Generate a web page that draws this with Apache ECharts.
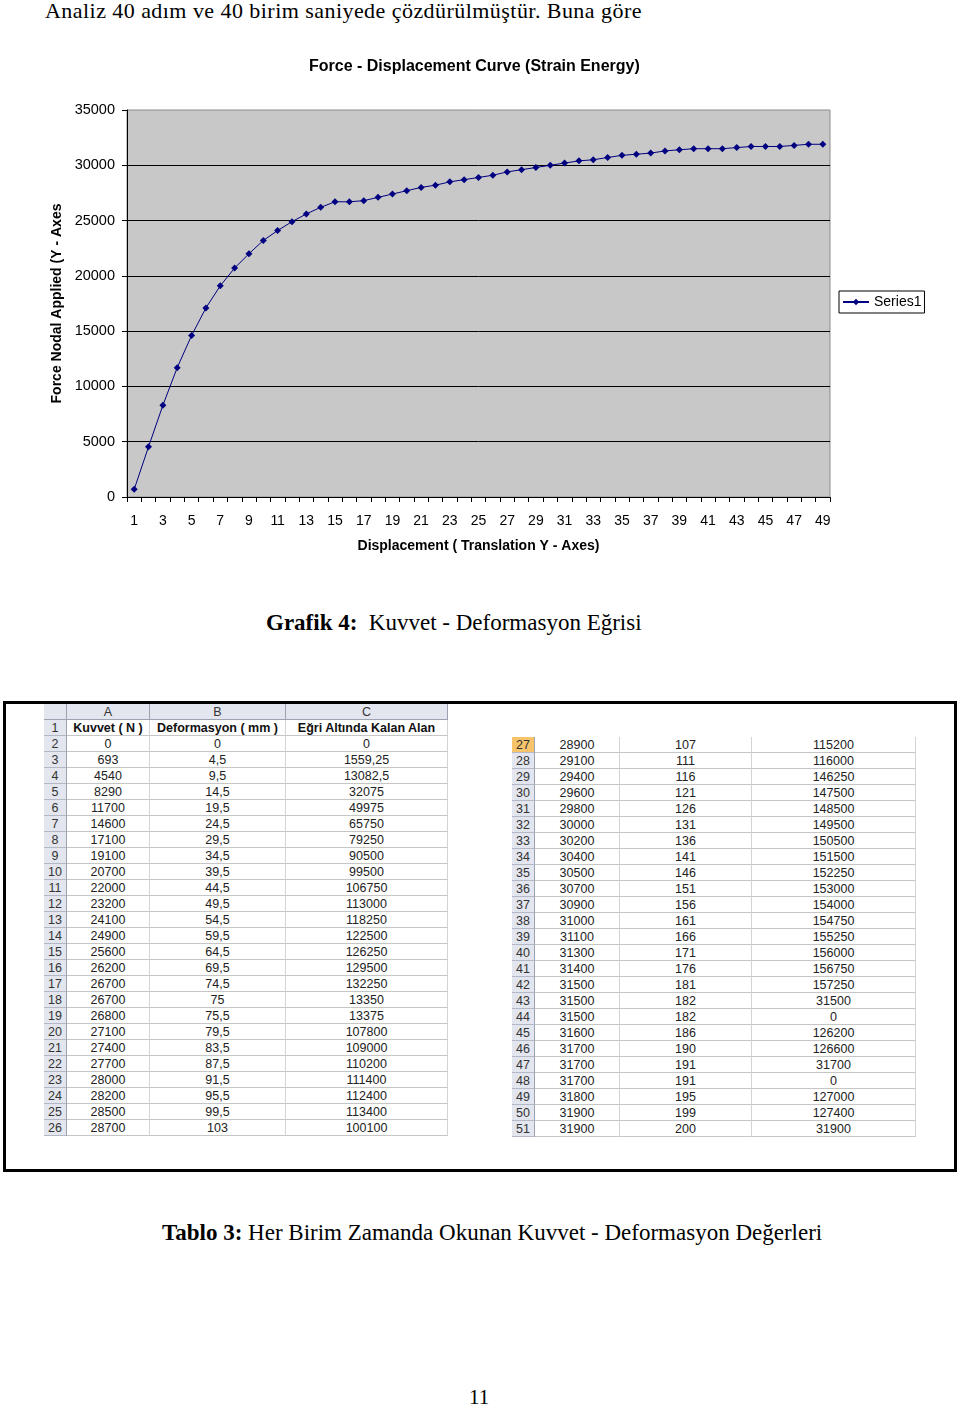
<!DOCTYPE html>
<html><head><meta charset="utf-8">
<script src="https://cdn.jsdelivr.net/npm/echarts@6/dist/echarts.min.js"></script>
<style>
body{margin:0;width:960px;height:1407px;background:#fff;position:relative;overflow:hidden;font-family:"Liberation Serif","Times New Roman",serif;}
.t{position:absolute;white-space:nowrap;color:#000;}
#chart{position:absolute;left:0;top:0;width:960px;height:580px;}
#frame{position:absolute;left:3px;top:701px;width:948px;height:465px;border:3px solid #000;}
.c{position:absolute;box-sizing:border-box;text-align:center;font-family:"Liberation Sans",Arial,sans-serif;font-size:12.5px;line-height:16px;color:#222;white-space:nowrap;overflow:hidden;border-bottom:1px solid #c6c6c6;border-right:1px solid #d4d4d4;}
.rh{background:#e3e6ee;border-right:1px solid #9ca2b2;border-bottom:1px solid #b4b8c4;color:#333;}
.hd{background:#e3e6ee;border-right:1px solid #9ca2b2;border-bottom:1px solid #9ca2b2;color:#333;}
.b{font-weight:bold;color:#111;}
.sel{background:#f7c46c;color:#333;}
</style></head>
<body>
<div class="t" style="left:45px;top:0px;font-size:22px;line-height:22px;letter-spacing:0.45px;">Analiz 40 adım ve 40 birim saniyede çözdürülmüştür. Buna göre</div>
<div id="chart"></div>
<div class="t" style="left:266px;top:611px;font-size:23px;line-height:23px;"><b>Grafik 4:</b>&nbsp; Kuvvet - Deformasyon Eğrisi</div>
<div id="frame"></div>
<div id="tbl"></div>
<div class="t" style="left:162px;top:1221px;font-size:23px;line-height:23px;"><b>Tablo 3:</b> Her Birim Zamanda Okunan Kuvvet - Deformasyon Değerleri</div>
<div class="t" style="left:469px;top:1387px;font-size:21px;line-height:21px;">11</div>
<script>
// ---- data ----
const kuvvet = [0,693,4540,8290,11700,14600,17100,19100,20700,22000,23200,24100,24900,25600,26200,26700,26700,26800,27100,27400,27700,28000,28200,28500,28700,
  28900,29100,29400,29600,29800,30000,30200,30400,30500,30700,30900,31000,31100,31300,31400,31500,31500,31500,31600,31700,31700,31700,31800,31900,31900];
const deformasyon = ['0','4,5','9,5','14,5','19,5','24,5','29,5','34,5','39,5','44,5','49,5','54,5','59,5','64,5','69,5','74,5','75','75,5','79,5','83,5','87,5','91,5','95,5','99,5','103',
  '107','111','116','121','126','131','136','141','146','151','156','161','166','171','176','181','182','182','186','190','191','191','195','199','200'];
const alan = ['0','1559,25','13082,5','32075','49975','65750','79250','90500','99500','106750','113000','118250','122500','126250','129500','132250','13350','13375','107800','109000','110200','111400','112400','113400','100100',
  '115200','116000','146250','147500','148500','149500','150500','151500','152250','153000','154000','154750','155250','156000','156750','157250','31500','0','126200','126600','31700','0','127000','127400','31900'];
const colLetters = ['A','B','C'];
const colHeaders = ['Kuvvet ( N )','Deformasyon ( mm )','Eğri Altında Kalan Alan'];
const chartSeries = kuvvet.slice(1);
const xCats = chartSeries.map((v,i)=>String(i+1));
const chartTitle = 'Force - Displacement Curve (Strain Energy)';
const xName = 'Displacement ( Translation Y - Axes)';
const yName = 'Force Nodal Applied (Y - Axes';

// ---- chart ----
const chart = echarts.init(document.getElementById('chart'), null, {renderer:'canvas'});
const F = '"Liberation Sans", Arial, sans-serif';
chart.setOption({
  animation:false,
  title:{text:chartTitle,left:304,top:54,textStyle:{fontFamily:F,fontSize:16,fontWeight:'bold',color:'#000'}},
  grid:{left:127,top:110,width:703,height:387,show:true,backgroundColor:'#c8c8c8',borderColor:'#8c8c8c',borderWidth:1,containLabel:false},
  legend:{left:839,top:291,orient:'vertical',backgroundColor:'#fff',borderColor:'#000',borderWidth:1,borderRadius:0,padding:[4,3,4,3],
    itemWidth:26,itemHeight:8,itemGap:0,textStyle:{fontFamily:F,fontSize:14,color:'#000'},data:['Series1']},
  xAxis:{type:'category',data:xCats,boundaryGap:true,
    axisLine:{lineStyle:{color:'#000',width:1}},
    axisTick:{show:true,interval:0,length:5,lineStyle:{color:'#000'}},
    axisLabel:{interval:1,color:'#000',fontSize:14,fontFamily:F,margin:17},
    name:xName,nameLocation:'middle',nameGap:42,nameTextStyle:{fontFamily:F,fontSize:14,fontWeight:'bold',color:'#000'}},
  yAxis:{type:'value',min:0,max:35000,interval:5000,
    axisLine:{show:true,lineStyle:{color:'#000',width:1}},
    axisTick:{show:true,length:5,lineStyle:{color:'#000'}},
    axisLabel:{color:'#000',fontSize:14.5,fontFamily:F,margin:12,formatter:v=>String(v)},
    splitLine:{show:true,showMaxLine:false,lineStyle:{color:'#000',width:1}},
    name:yName,nameLocation:'middle',nameGap:59,nameTextStyle:{fontFamily:F,fontSize:14,fontWeight:'bold',color:'#000'}},
  series:[{type:'line',name:'Series1',data:chartSeries,symbol:'diamond',symbolSize:7,
    lineStyle:{color:'#000080',width:1},itemStyle:{color:'#000080'}}]
});

// ---- spreadsheet table ----
const tbl = document.getElementById('tbl');
function cell(x,y,w,h,text,cls){
  const d=document.createElement('div');
  d.className='c '+(cls||'');
  d.style.left=x+'px';d.style.top=y+'px';d.style.width=w+'px';d.style.height=h+'px';
  d.textContent=text;tbl.appendChild(d);
}
const RH=16;
// left block
const LX=[44,67,150,286,448];
cell(LX[0],704,LX[1]-LX[0],RH,'','hd');
colLetters.forEach((l,i)=>cell(LX[i+1],704,LX[i+2]-LX[i+1],RH,l,'hd'));
cell(LX[0],720,LX[1]-LX[0],RH,'1','rh');
colHeaders.forEach((h,i)=>cell(LX[i+1],720,LX[i+2]-LX[i+1],RH,h,'b'));
for(let k=0;k<25;k++){
  const y=736+k*RH;
  cell(LX[0],y,LX[1]-LX[0],RH,String(k+2),'rh');
  cell(LX[1],y,LX[2]-LX[1],RH,String(kuvvet[k]));
  cell(LX[2],y,LX[3]-LX[2],RH,deformasyon[k]);
  cell(LX[3],y,LX[4]-LX[3],RH,alan[k]);
}
// right block
const RX=[512,535,620,752,916];
for(let k=0;k<25;k++){
  const i=25+k, y=737+k*RH;
  cell(RX[0],y,RX[1]-RX[0],RH,String(i+2),k===0?'rh sel':'rh');
  cell(RX[1],y,RX[2]-RX[1],RH,String(kuvvet[i]));
  cell(RX[2],y,RX[3]-RX[2],RH,deformasyon[i]);
  cell(RX[3],y,RX[4]-RX[3],RH,alan[i]);
}
</script>
</body></html>
